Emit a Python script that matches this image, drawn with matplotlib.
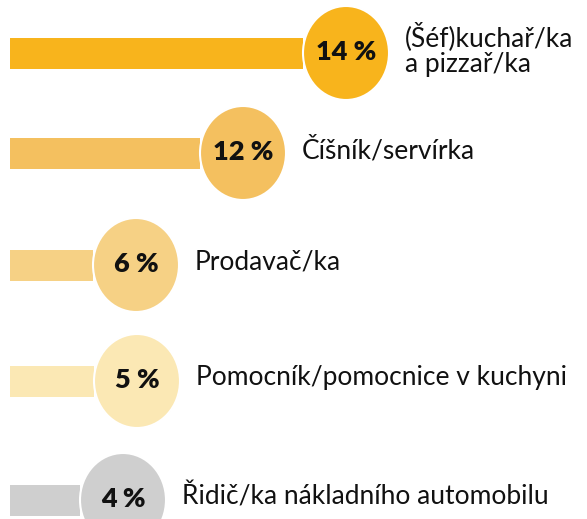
import matplotlib
matplotlib.use("Agg")
import matplotlib.pyplot as plt
from matplotlib.patches import Ellipse

# data
categories = ["(Šéf)kuchař/ka\na pizzař/ka", "Číšník/servírka", "Prodavač/ka",
              "Pomocník/pomocnice v kuchyni", "Řidič/ka nákladního automobilu"]
values = [14, 12, 6, 5, 4]
# the infographic is not drawn to scale: bar lengths as they appear (px)
bar_len = [293, 190, 83, 84, 70]
colors = ["#F8B41C", "#F4C05F", "#F6D185", "#FBE8B4", "#CFCFCF"]

# layout (pixel units)
row_y = [53, 153, 265, 381, 500]
x0 = 10
bar_h = 31
rx, ry = 43, 47

plt.rcParams["font.family"] = ["Lato", "DejaVu Sans"]

fig = plt.figure(figsize=(5.87, 5.19), dpi=100)
ax = fig.add_axes([0, 0, 1, 1])
ax.set_xlim(0, 587)
ax.set_ylim(519, 0)
ax.axis("off")

ax.barh(row_y, bar_len, left=x0, height=bar_h, color=colors, zorder=1)

for y, v, L, c, name in zip(row_y, values, bar_len, colors, categories):
    cx = x0 + L + rx
    ax.add_patch(Ellipse((cx, y), 2 * rx, 2 * ry, facecolor=c,
                         edgecolor="white", linewidth=1.5, zorder=2))
    ax.text(cx, y - 1, f"{v} %", ha="center", va="center", fontsize=19.5,
            fontweight="heavy", color="#111111", zorder=3)
    ax.text(cx + rx + 16, y - 3, name, ha="left", va="center", fontsize=19,
            color="#111111", linespacing=1.05, zorder=3)

fig.savefig("out.png", dpi=100)
